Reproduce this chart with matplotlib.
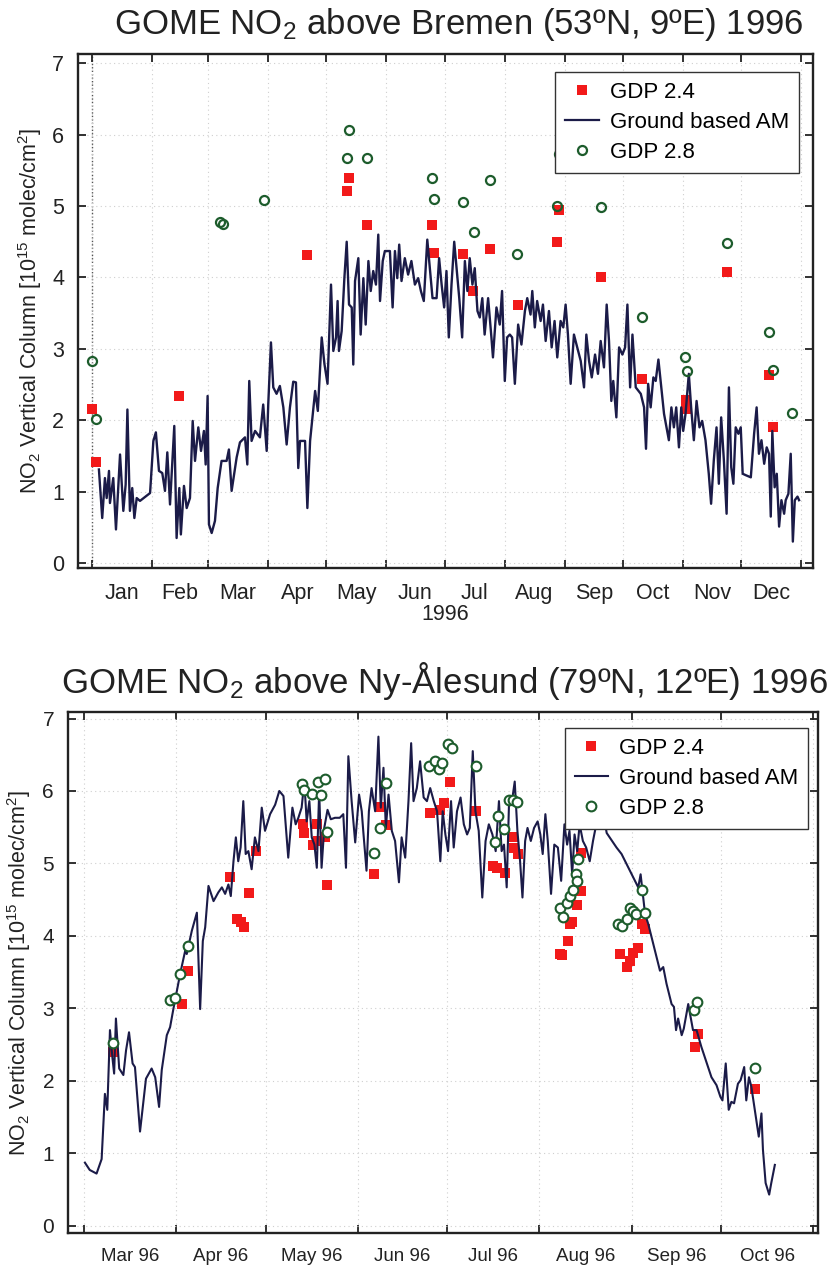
import matplotlib
matplotlib.use("Agg")
import matplotlib.pyplot as plt
from matplotlib.lines import Line2D

plt.rcParams["font.family"] = ["Liberation Sans", "DejaVu Sans"]
plt.rcParams["mathtext.fontset"] = "custom"
plt.rcParams["mathtext.rm"] = "Liberation Sans"
plt.rcParams["mathtext.it"] = "Liberation Sans:italic"
plt.rcParams["mathtext.default"] = "regular"

# ---------------- Bremen 1996 (day of year, NO2 column in 1e15 molec/cm2) ----------------
bremen_ground_am = [
    (4.6, 1.31), (6.3, 0.63), (7.7, 1.19), (8.6, 0.91), (9.8, 1.29), (10.3, 0.84), (12.0, 1.19),
    (13.4, 0.47), (15.5, 1.52), (17.2, 0.73), (18.4, 1.10), (19.3, 2.15), (20.6, 0.73), (21.8, 1.05),
    (22.9, 0.63), (24.1, 0.91), (25.8, 0.87), (31.0, 0.98), (32.7, 1.71), (34.0, 1.83), (35.6, 1.29),
    (37.3, 1.26), (38.7, 1.01), (39.9, 1.55), (41.3, 0.82), (43.5, 1.92), (44.7, 0.35), (46.1, 1.05),
    (46.9, 0.40), (48.5, 1.08), (49.9, 0.77), (51.6, 0.91), (53.0, 1.99), (54.2, 1.43), (55.9, 1.90),
    (57.3, 1.57), (58.8, 1.85), (59.7, 1.38), (60.7, 2.34), (61.4, 0.54), (62.8, 0.42), (64.5, 0.59),
    (65.9, 1.05), (67.9, 1.43), (70.5, 1.43), (71.7, 1.59), (73.1, 1.01), (75.7, 1.48), (77.4, 1.69),
    (80.0, 1.76), (81.2, 1.38), (82.2, 2.55), (83.4, 1.71), (85.2, 1.85), (87.7, 1.76), (89.4, 2.22),
    (91.2, 1.57), (92.0, 2.22), (93.4, 3.09), (94.6, 2.46), (96.3, 2.37), (98.0, 2.48), (99.8, 2.18),
    (101.5, 1.66), (103.2, 2.18), (104.9, 2.54), (106.3, 2.53), (107.5, 1.33), (108.4, 1.71),
    (111.0, 1.71), (112.2, 0.77), (113.6, 1.71), (116.2, 2.41), (117.6, 2.13), (119.6, 3.16),
    (121.0, 2.79), (122.6, 2.51), (124.4, 3.90), (125.6, 2.97), (127.0, 3.16), (127.8, 3.67),
    (128.5, 2.97), (129.9, 3.25), (131.3, 3.99), (132.5, 4.50), (133.7, 3.62), (135.1, 3.58),
    (135.9, 2.78), (136.8, 3.95), (138.5, 4.27), (139.7, 3.20), (141.1, 3.99), (142.3, 3.34),
    (143.7, 4.23), (144.9, 3.81), (146.2, 4.09), (147.6, 3.90), (148.8, 4.60), (149.7, 3.67),
    (151.1, 4.23), (152.2, 4.37), (154.8, 4.37), (156.2, 3.58), (157.4, 4.37), (158.6, 3.99),
    (159.6, 4.46), (160.8, 3.95), (162.5, 4.27), (164.2, 4.04), (165.9, 4.23), (167.7, 3.90),
    (169.4, 3.99), (170.8, 3.81), (172.3, 3.67), (174.1, 4.53), (175.4, 4.13), (176.8, 3.71),
    (178.9, 3.71), (180.2, 4.27), (181.5, 3.90), (182.8, 3.58), (184.0, 4.09), (185.2, 3.16),
    (186.6, 3.90), (188.0, 4.50), (189.2, 4.13), (190.6, 3.71), (192.1, 3.16), (193.5, 4.23),
    (194.8, 3.81), (196.0, 4.27), (197.4, 3.90), (198.6, 4.13), (200.0, 3.53), (201.2, 3.44),
    (202.5, 3.71), (203.7, 3.20), (205.5, 3.71), (207.2, 3.16), (208.0, 2.88), (209.8, 3.58),
    (211.5, 3.34), (212.7, 3.81), (214.1, 2.55), (215.3, 3.16), (216.7, 3.20), (217.9, 3.16),
    (219.3, 2.51), (221.0, 3.34), (222.7, 3.06), (224.5, 3.53), (225.7, 3.71), (227.4, 3.48),
    (228.3, 3.81), (229.6, 3.30), (230.8, 3.67), (232.6, 3.39), (233.8, 3.62), (235.2, 3.11),
    (236.9, 3.53), (238.3, 3.02), (239.8, 3.39), (241.2, 2.88), (242.9, 3.39), (244.3, 3.30),
    (245.5, 3.62), (246.7, 3.20), (248.1, 2.51), (249.8, 3.20), (251.5, 3.02), (253.3, 2.83),
    (255.0, 2.46), (256.2, 3.20), (257.6, 2.83), (259.0, 2.60), (260.7, 2.92), (262.2, 2.65),
    (263.6, 3.11), (265.3, 2.74), (266.7, 3.62), (267.9, 3.11), (269.1, 2.27), (270.1, 2.55),
    (271.7, 2.04), (273.1, 3.02), (274.8, 2.92), (276.2, 3.02), (277.4, 3.62), (278.8, 2.46),
    (280.0, 3.20), (281.7, 2.46), (284.3, 2.37), (286.0, 2.18), (287.0, 1.60), (288.1, 2.51),
    (289.4, 2.18), (290.8, 2.60), (292.0, 2.55), (293.4, 2.85), (294.9, 2.46), (296.3, 2.09),
    (297.6, 1.90), (298.8, 1.72), (300.1, 2.18), (301.4, 1.90), (302.6, 2.18), (304.0, 1.62),
    (305.2, 2.18), (306.2, 1.85), (307.4, 2.09), (309.1, 2.65), (310.3, 2.18), (311.7, 1.72),
    (313.1, 2.27), (314.6, 1.90), (316.0, 1.99), (317.7, 1.72), (319.4, 1.25), (320.6, 0.83),
    (322.0, 1.44), (323.4, 1.90), (324.6, 1.11), (325.8, 2.04), (327.2, 1.44), (328.6, 0.69),
    (329.8, 2.46), (331.0, 1.34), (332.1, 1.11), (333.3, 1.90), (334.7, 1.81), (335.9, 1.90),
    (336.9, 1.25), (338.5, 1.23), (341.1, 1.20), (342.8, 1.81), (344.1, 2.18), (345.3, 1.53),
    (346.6, 1.72), (348.0, 1.39), (349.3, 1.62), (350.5, 1.53), (351.4, 0.65), (352.2, 1.85),
    (353.4, 1.06), (354.5, 1.25), (355.7, 0.51), (356.9, 0.88), (358.3, 0.69), (359.1, 0.88),
    (360.5, 0.97), (361.7, 1.53), (362.8, 0.30), (363.8, 0.88), (365.2, 0.93), (366.0, 0.88),
]

bremen_gdp24_day = [1.2, 2.9, 45.8, 111.8, 132.5, 133.7, 142.8, 176.6, 177.7, 192.5, 197.9,
                    206.5, 220.7, 241.2, 242.3, 264.0, 285.1, 307.5, 307.8, 329.0, 350.7, 352.4]
bremen_gdp24_val = [2.16, 1.41, 2.34, 4.32, 5.21, 5.39, 4.73, 4.74, 4.34, 4.33, 3.81,
                    4.40, 3.61, 4.49, 4.95, 4.00, 2.58, 2.28, 2.16, 4.07, 2.64, 1.91]

bremen_gdp28_day = [1.2, 2.9, 67.1, 68.5, 89.8, 132.5, 133.5, 142.8, 176.5, 177.6, 192.6, 198.3,
                    206.5, 220.4, 241.2, 241.9, 263.9, 284.9, 306.9, 308.0, 328.9, 350.7, 352.4, 362.2]
bremen_gdp28_val = [2.83, 2.02, 4.78, 4.75, 5.08, 5.68, 6.07, 5.68, 5.40, 5.10, 5.05, 4.63,
                    5.36, 4.33, 5.00, 5.73, 4.98, 3.44, 2.89, 2.69, 4.48, 3.24, 2.70, 2.10]

# ---------------- Ny-Alesund 1996 ----------------
ny_ground_am = [
    (61.3, 0.87), (62.9, 0.77), (65.2, 0.72), (66.9, 0.92), (68.0, 1.82), (68.8, 1.60), (69.7, 2.70),
    (70.5, 2.33), (71.1, 2.10), (71.7, 2.86), (72.8, 2.17), (74.2, 2.08), (75.1, 2.42), (76.1, 2.67),
    (77.3, 2.24), (78.1, 2.19), (79.8, 1.30), (81.8, 2.03), (83.7, 2.17), (84.9, 2.05), (86.2, 1.64),
    (87.1, 2.15), (88.8, 2.63), (89.9, 2.74), (91.0, 2.99), (91.9, 3.18), (93.3, 3.48), (95.0, 3.80),
    (95.5, 3.75), (97.2, 4.07), (98.9, 4.32), (100.0, 2.99), (100.9, 3.93), (101.7, 4.12),
    (102.8, 4.69), (104.5, 4.48), (106.1, 4.60), (107.3, 4.67), (108.4, 4.58), (109.5, 4.71),
    (110.3, 4.55), (111.2, 5.03), (112.0, 5.36), (112.8, 5.03), (113.6, 5.22), (114.5, 5.86),
    (115.3, 5.13), (116.2, 5.17), (117.3, 4.92), (118.4, 5.36), (119.6, 5.17), (120.7, 5.77),
    (121.8, 5.45), (123.5, 5.68), (125.2, 5.81), (126.6, 6.00), (128.0, 5.93), (129.6, 5.08),
    (131.0, 5.77), (132.1, 5.54), (133.0, 5.63), (134.1, 5.77), (135.0, 6.13), (135.8, 5.58),
    (136.7, 5.86), (137.5, 5.36), (138.4, 5.26), (139.2, 4.94), (140.0, 6.00), (140.8, 4.94),
    (141.7, 5.49), (142.8, 5.74), (143.9, 5.61), (145.3, 5.63), (146.9, 5.63), (148.1, 5.68),
    (149.0, 4.94), (149.8, 6.48), (150.9, 5.86), (152.1, 5.29), (153.4, 5.95), (154.3, 5.72),
    (154.8, 5.45), (155.9, 4.90), (156.7, 5.72), (157.6, 6.04), (158.8, 5.72), (159.9, 6.75),
    (160.7, 5.77), (161.6, 6.32), (162.4, 5.49), (163.3, 5.95), (164.4, 5.45), (165.5, 5.31),
    (166.8, 4.74), (167.7, 5.36), (168.9, 5.08), (170.0, 5.86), (170.9, 6.66), (171.7, 5.86),
    (172.8, 6.04), (173.9, 6.41), (175.1, 5.91), (176.2, 5.86), (177.3, 6.04), (178.5, 5.86),
    (179.6, 5.72), (180.7, 5.03), (181.5, 5.72), (182.4, 5.40), (183.3, 5.17), (184.3, 5.86),
    (185.2, 5.22), (186.3, 5.72), (187.5, 5.91), (188.6, 5.54), (189.7, 5.40), (190.6, 5.49),
    (191.6, 6.55), (192.5, 5.72), (193.6, 5.45), (194.8, 4.53), (195.9, 5.31), (197.0, 5.54),
    (198.2, 5.40), (199.3, 5.17), (200.4, 5.86), (201.3, 5.17), (202.1, 5.26), (203.0, 4.67),
    (203.8, 5.86), (204.6, 5.81), (205.7, 6.13), (206.6, 5.45), (207.5, 5.03), (208.3, 4.53),
    (209.2, 5.31), (210.0, 5.49), (211.1, 5.31), (212.2, 5.49), (213.4, 5.58), (214.3, 5.40),
    (215.1, 5.13), (216.0, 5.68), (216.8, 5.31), (217.9, 4.58), (219.0, 5.26), (220.2, 5.22),
    (221.3, 4.76), (222.4, 5.54), (223.3, 5.26), (224.1, 5.45), (225.0, 4.85), (225.8, 5.40),
    (226.7, 5.17), (227.5, 5.54), (228.6, 5.31), (229.7, 5.22), (230.9, 5.03), (232.0, 5.31),
    (233.1, 5.54), (234.2, 5.90), (235.4, 5.70), (236.6, 5.42), (239.9, 5.22), (241.6, 5.13),
    (243.3, 4.99), (245.5, 4.81), (247.2, 4.67), (248.0, 4.85), (249.5, 4.30), (250.6, 4.16),
    (252.8, 3.80), (254.5, 3.52), (255.6, 3.57), (256.7, 3.34), (258.4, 3.06), (259.2, 3.02),
    (259.9, 2.70), (260.6, 2.86), (261.8, 2.63), (262.5, 2.72), (264.0, 3.06), (265.6, 2.70),
    (266.8, 2.70), (268.4, 2.47), (270.1, 2.26), (271.8, 2.05), (273.5, 1.94), (274.8, 1.78),
    (275.5, 1.73), (276.6, 2.24), (277.6, 1.60), (278.5, 1.71), (279.4, 1.69), (280.7, 1.96),
    (281.6, 2.01), (282.8, 2.19), (283.5, 1.73), (284.4, 2.05), (285.2, 1.92), (286.7, 1.50),
    (287.7, 1.23), (288.6, 1.55), (289.1, 1.05), (290.0, 0.59), (291.2, 0.43), (291.9, 0.59),
    (293.1, 0.84),
]

ny_gdp24_day = [70.6, 93.8, 96.0, 110.0, 112.5, 113.6, 114.8, 116.5, 118.7, 134.7, 135.0, 138.0,
                139.1, 139.7, 141.9, 142.5, 158.5, 160.9, 162.6, 177.2, 180.6, 182.0, 183.9, 192.7,
                198.5, 199.6, 202.6, 205.2, 205.5, 206.9, 220.9, 221.5, 223.7, 224.2, 225.1, 226.5,
                227.9, 228.1, 241.1, 243.3, 244.4, 245.5, 247.2, 248.3, 249.4, 266.2, 267.3, 286.4]
ny_gdp24_val = [2.40, 3.06, 3.52, 4.81, 4.23, 4.19, 4.12, 4.59, 5.17, 5.54, 5.42, 5.26,
                5.54, 5.31, 5.36, 4.70, 4.86, 5.78, 5.53, 5.69, 5.74, 5.84, 6.13, 5.72,
                4.96, 4.94, 4.87, 5.36, 5.22, 5.13, 3.75, 3.73, 3.93, 4.16, 4.19, 4.42,
                4.62, 5.15, 3.75, 3.57, 3.66, 3.77, 3.84, 4.16, 4.09, 2.46, 2.64, 1.89]

ny_gdp28_day = [70.6, 89.9, 91.6, 93.2, 95.8, 134.2, 135.0, 137.7, 139.7, 140.6, 141.9, 142.7,
                158.5, 160.6, 162.4, 177.0, 178.9, 180.4, 181.2, 183.4, 184.5, 192.6, 199.1,
                200.2, 202.2, 203.7, 205.2, 206.6, 220.9, 222.0, 223.1, 224.2, 225.4, 226.3,
                226.5, 227.1, 240.5, 241.6, 243.3, 244.4, 245.5, 246.6, 248.3, 249.4, 265.9,
                267.1, 286.4]
ny_gdp28_val = [2.52, 3.12, 3.14, 3.48, 3.86, 6.10, 6.01, 5.96, 6.13, 5.94, 6.17, 5.44,
                5.15, 5.49, 6.11, 6.34, 6.42, 6.30, 6.39, 6.65, 6.59, 6.35, 5.29,
                5.65, 5.47, 5.88, 5.88, 5.85, 4.39, 4.26, 4.46, 4.55, 4.64, 4.85,
                4.76, 5.06, 4.16, 4.14, 4.23, 4.39, 4.35, 4.30, 4.63, 4.32, 2.98,
                3.09, 2.18]

# Calendar of 1996 (leap year): first day of each month as day of year
month_start = [1, 32, 61, 92, 122, 153, 183, 214, 245, 275, 306, 336, 367]
month_abbr = ["Jan", "Feb", "Mar", "Apr", "May", "Jun", "Jul", "Aug", "Sep", "Oct", "Nov", "Dec"]

LINE_C = "#1b1b48"
RED_C = "#f21a1a"
GREEN_C = "#1d5c2c"
INK = "#222222"

W, H = 829, 1266
fig = plt.figure(figsize=(W / 100, H / 100), dpi=100)


def frame(ax, x0, x1, months, fmt, label_size, ylab_x):
    ax.set_xlim(x0, x1)
    ticks = [month_start[m] for m in months] + [month_start[months[-1] + 1]]
    ax.set_xticks(ticks)
    ax.set_xticklabels([""] * len(ticks))
    mids = [(month_start[m] + month_start[m + 1]) / 2 for m in months]
    ax.set_xticks(mids, minor=True)
    ax.set_xticklabels([fmt(month_abbr[m]) for m in months], minor=True)
    ax.set_yticks(range(0, 8))
    ax.tick_params(which="major", direction="in", length=6, width=1.3, top=True, right=True,
                   colors=INK, labelsize=15.5, pad=10)
    ax.tick_params(axis="x", which="minor", length=0, labelsize=label_size, pad=11, colors=INK)
    ax.tick_params(axis="y", which="minor", length=0)
    for s in ax.spines.values():
        s.set_linewidth(1.7)
        s.set_color(INK)
    ax.grid(True, which="major", color="#cfcfcf", linestyle=(0, (1, 3)), linewidth=0.8)
    ax.set_ylabel(r"NO$_2$ Vertical Column [10$^{15}$ molec/cm$^2$]", fontsize=15.5, color=INK)
    ax.yaxis.set_label_coords(ylab_x, 0.5)


# ---------------- Bremen panel ----------------
ax1 = fig.add_axes([78 / W, 1 - 568 / H, 735 / W, 514 / H])
frame(ax1, -6.2, 373.2, list(range(12)), lambda m: m, 15.5, -0.046)
ax1.set_ylim(-0.07, 7.13)
ax1.axvline(1, color="#555555", linestyle=(0, (1, 1.5)), linewidth=1.0, zorder=1)
ax1.set_xlabel("1996", fontsize=15.5, color=INK, labelpad=0)

bd, bv = zip(*bremen_ground_am)
ax1.plot(bremen_gdp24_day, bremen_gdp24_val, linestyle="none", marker="s", markersize=7,
         color=RED_C, markeredgewidth=0, zorder=2)
ax1.plot(bd, bv, color=LINE_C, linewidth=1.7, zorder=3)
ax1.plot(bremen_gdp28_day, bremen_gdp28_val, linestyle="none", marker="o", markersize=6.5,
         markerfacecolor="none", markeredgecolor=GREEN_C, markeredgewidth=1.6, zorder=4)

handles1 = [
    Line2D([], [], linestyle="none", marker="s", markersize=7, color=RED_C, markeredgewidth=0),
    Line2D([], [], color=LINE_C, linewidth=1.6),
    Line2D([], [], linestyle="none", marker="o", markersize=6.5, markerfacecolor="none",
           markeredgecolor=GREEN_C, markeredgewidth=1.6),
]
leg1 = ax1.legend(handles1, ["GDP 2.4", "Ground based AM", "GDP 2.8"], loc="upper right",
                  bbox_to_anchor=(0.981, 0.965), fontsize=16, frameon=True, fancybox=False,
                  framealpha=1, edgecolor="#333333", borderpad=0.45, labelspacing=0.4,
                  handlelength=1.5, handletextpad=0.5, borderaxespad=0)
leg1.get_frame().set_linewidth(1.0)

fig.text(459 / W, 1 - 34 / H, r"GOME NO$_2$ above Bremen (53ºN, 9ºE) 1996",
         ha="center", va="baseline", fontsize=25, color=INK)

# ---------------- Ny-Alesund panel ----------------
ax2 = fig.add_axes([68 / W, 1 - 1233 / H, 750 / W, 521 / H])
frame(ax2, 55.6, 307.6, list(range(2, 10)), lambda m: m + " 96", 13.5, -0.046)
ax2.set_ylim(-0.1, 7.09)
ax2.tick_params(axis="y", labelsize=15)

nd, nv = zip(*ny_ground_am)
ax2.plot(ny_gdp24_day, ny_gdp24_val, linestyle="none", marker="s", markersize=7,
         color=RED_C, markeredgewidth=0, zorder=2)
ax2.plot(nd, nv, color=LINE_C, linewidth=1.5, zorder=3)
ax2.plot(ny_gdp28_day, ny_gdp28_val, linestyle="none", marker="o", markersize=7,
         markerfacecolor="white", markeredgecolor=GREEN_C, markeredgewidth=1.5, zorder=4)

handles2 = [
    Line2D([], [], linestyle="none", marker="s", markersize=7, color=RED_C, markeredgewidth=0),
    Line2D([], [], color=LINE_C, linewidth=1.5),
    Line2D([], [], linestyle="none", marker="o", markersize=7, markerfacecolor="white",
           markeredgecolor=GREEN_C, markeredgewidth=1.5),
]
leg2 = ax2.legend(handles2, ["GDP 2.4", "Ground based AM", "GDP 2.8"], loc="upper right",
                  bbox_to_anchor=(0.987, 0.969), fontsize=16, frameon=True, fancybox=False,
                  framealpha=1, edgecolor="#333333", borderpad=0.45, labelspacing=0.4,
                  handlelength=1.5, handletextpad=0.5, borderaxespad=0)
leg2.get_frame().set_linewidth(1.0)
leg2.set_zorder(10)

fig.text(444 / W, 1 - 693 / H, r"GOME NO$_2$ above Ny-Ålesund (79ºN, 12ºE) 1996",
         ha="center", va="baseline", fontsize=25, color=INK)

fig.savefig("out.png", dpi=100)
